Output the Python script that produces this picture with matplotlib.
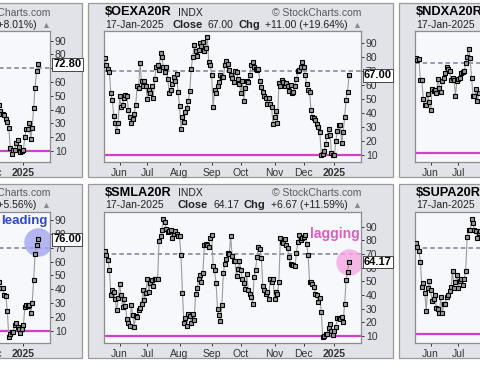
import matplotlib
matplotlib.use("Agg")
import matplotlib.pyplot as plt
from matplotlib.patches import Rectangle
from matplotlib.offsetbox import TextArea, HPacker, AnnotationBbox
import numpy as np
import pandas as pd

plt.rcParams["font.family"] = ["Liberation Sans", "DejaVu Sans"]

# ── data (percent of stocks above 20-day SMA, daily closes) ──────────────────
HOLIDAYS = ["2024-05-27", "2024-06-19", "2024-07-04", "2024-09-02",
            "2024-11-28", "2024-12-25", "2025-01-01", "2025-01-09"]
N_DAYS = 168
dates = pd.bdate_range(end="2025-01-17", periods=N_DAYS, freq="C", holidays=HOLIDAYS)

oexa_vals = [79.3, 74, 71.7, 69, 54, 49, 38, 33, 27, 33,
             52, 44, 46, 51, 53, 52, 42, 37, 33, 36,
             39, 46, 59, 58, 76, 62.6, 59, 62.6, 59, 50,
             56.7, 54, 59, 50.7, 64, 72.6, 74.5, 71, 82.9, 79.8,
             72.6, 69, 72.6, 64, 54, 56.7, 61, 66, 63, 68,
             55, 44.8, 28.8, 37, 33.6, 41, 43.6, 48.8, 55.5, 71.7,
             79.8, 88.8, 84, 80.5, 85.2, 90, 88, 90.7, 84, 86.4,
             94, 76.4, 74, 67, 44, 56.7, 54, 59, 62, 67,
             66, 66, 74, 77, 75, 71, 67.4, 65, 62, 69.8,
             69, 64.5, 60.7, 54, 62.6, 48.8, 57.9, 63, 62, 67,
             74, 76.4, 72.6, 71.7, 71, 71.7, 62.6, 58.3, 55, 52,
             51, 46.4, 51, 46.4, 44, 32, 37, 41.7, 33, 61.4,
             59, 63.8, 62, 59, 61.4, 59, 55.5, 59.8, 54, 55,
             59, 64, 69.8, 71, 72.6, 76.4, 72.6, 67, 60.7, 56.7,
             55, 42.4, 37, 36.4, 35, 32, 29.8, 26.4, 10.2, 10.7,
             13, 17.9, 23.3, 28.8, 24, 11.4, 10.2, 10.2, 20, 27,
             31.7, 31.7, 18.6, 26.4, 37, 49.5, 55, 67.0]

smla_vals = [71.9, 69.5, 65.9, 58.6, 39.9, 43.3, 42.3, 36.7, 28.7, 37.5,
             47.7, 39.9, 31.1, 36.7, 31.9, 22.1, 19.7, 17.3, 32.6, 25.3,
             16.6, 24.6, 23.8, 28.7, 30.2, 33.6, 43.3, 36.0, 41.6, 52.0,
             42.3, 48.9, 50.6, 46.4, 51.3, 51.3, 52.0, 79.7, 82.9, 87.7,
             95.7, 93.3, 88.5, 86.0, 87.0, 87.7, 81.7, 84.6, 86.5, 84.6,
             82.9, 82.9, 69.0, 41.6, 19.7, 22.9, 17.3, 25.8, 24.6, 19.7,
             26.3, 21.4, 40.4, 44.7, 51.3, 54.5, 49.6, 56.2, 76.8, 77.3,
             76.3, 74.9, 81.7, 84.1, 61.0, 57.9, 48.9, 29.4, 25.3, 20.9,
             32.6, 56.2, 62.7, 66.6, 70.7, 70.0, 82.9, 68.3, 65.1, 65.1,
             53.7, 59.3, 64.7, 57.9, 52.0, 48.9, 44.0, 55.4, 43.3, 40.9,
             38.4, 33.6, 53.0, 58.6, 67.6, 74.9, 73.9, 67.1, 46.4, 43.3,
             40.9, 42.3, 36.7, 52.0, 49.6, 52.0, 36.7, 42.3, 40.9, 49.6,
             81.7, 78.7, 78.0, 81.2, 76.3, 74.4, 67.6, 62.7, 62.2, 61.7,
             61.0, 70.7, 78.7, 84.1, 80.4, 81.7, 82.1, 83.6, 77.3, 69.5,
             49.6, 49.6, 48.1, 45.7, 40.9, 39.9, 35.0, 37.9, 27.7,
             9.3, 10.0, 11.2, 11.2, 15.6, 18.5, 13.2, 10.7, 13.2, 16.6,
             22.9, 23.4, 22.1, 23.8, 20.4, 33.1, 50.6, 56.9, 64.17]

# partially visible neighbours (left: last weeks only, right: first weeks only)
left_top_vals = [43.5, 39, 36.5, 37, 36, 33, 31, 27, 12, 8,
                 11, 11, 16, 18, 13, 9, 10, 11, 20, 26,
                 26, 30, 19, 27, 41, 56, 68, 72.8]
left_bot_vals = [46.6, 45.4, 41.2, 40.5, 40.5, 35.8, 35, 24, 5.7, 7.6,
                 9.3, 9.3, 14, 15.8, 12.4, 11, 8.6, 11, 14, 26.9,
                 28.6, 27.9, 28.6, 23, 30.2, 46.6, 65.4, 72, 76.0]
ndxa_vals = [73.3, 71.6, 72.2, 58.2, 58.2, 45.6, 41.6, 41.6, 49.3, 43.8,
             38.4, 52.2, 51.1, 51.8, 50, 59.3, 53.3, 50.4, 57.8, 59.6,
             63.3, 67.1, 65.6, 64.4, 58.2, 60, 58.2, 48.2, 57.8, 58.9,
             60, 63.3, 63.8, 64.4, 70, 74, 79.3, 72.7, 60, 48.2,
             47.8, 52.2, 44.4, 50]
supa_vals = [73.5, 71.2, 68.1, 60.7, 42.8, 45.6, 38.6, 26.3, 42.1, 47.4,
             40.9, 33.5, 34.4, 37.4, 28.1, 27.7, 24.7, 35.8, 24.7, 31.2,
             31.2, 35.8, 37.4, 40.5, 42.8, 54.4, 42.1, 46.7, 51.4, 42.1,
             47.4, 48.4, 44.4, 48.4, 54.4, 78.1, 82.8, 82.8, 90.2, 87.4,
             82.8, 82.3, 77, 80.5, 81.7]

symbols = ["$SPXA20R", "$OEXA20R", "$NDXA20R", "$MIDA20R", "$SMLA20R", "$SUPA20R"]
closes = ["72.80", "67.00", None, "76.00", "64.17", None]
changes = ["+5.40 (+8.01%)", "+11.00 (+19.64%)", None,
           "+4.00 (+5.56%)", "+6.67 (+11.59%)", None]
series = [left_top_vals, oexa_vals, ndxa_vals, left_bot_vals, smla_vals, supa_vals]
ylims = [(2, 97), (5, 98.6), (4.2, 90.9), (1.1, 95.8), (4.7, 100.8), (3.9, 95.3)]
columns = [-1, 0, 1, -1, 0, 1]
rows = [0, 0, 0, 1, 1, 1]

# ── layout (pixels) ──────────────────────────────────────────────────────────
W, H = 480, 366
COL_STEP, ROW_STEP = 311, 181
PL, PT, PW, PH = 104, 31, 257, 131

PANEL_BG = "#e1e3e9"
PLOT_BG = "#f7f8fc"
MAGENTA = "#d23fcf"
DASH = "#7d7d9a"
TXT = "#222222"


def fxy(px, py):
    return px / W, 1 - py / H


fig = plt.figure(figsize=(W / 100, H / 100), dpi=100, facecolor="white")

month_idx = [i for i in range(1, N_DAYS) if dates[i].month != dates[i - 1].month]
month_lbl = [dates[i].strftime("%Y") if dates[i].month == 1 else dates[i].strftime("%b")
             for i in month_idx]

for k in range(6):
    pl = PL + COL_STEP * columns[k]
    pt = PT + ROW_STEP * rows[k]

    # panel frame, drawn underneath the axes
    x0, y0 = fxy(pl - 16, pt + PH + 15)
    fig.patches.append(Rectangle((x0, y0), 305 / W, 174 / H, transform=fig.transFigure,
                                 facecolor=PANEL_BG, edgecolor="#9a9a9a", lw=0.9, zorder=-10))

    ax = fig.add_axes([pl / W, 1 - (pt + PH) / H, PW / W, PH / H])
    ax.set_zorder(1)
    ax.set_facecolor(PLOT_BG)
    for sp in ax.spines.values():
        sp.set_edgecolor("#8c8c8c")
        sp.set_linewidth(0.9)

    vals = series[k]
    start = 0 if columns[k] == 1 else N_DAYS - len(vals)
    x = np.arange(start, start + len(vals))

    ax.axhline(70, color=DASH, lw=1.1, ls=(0, (3, 2)), zorder=2)
    ax.axhline(10, color=MAGENTA, lw=1.6, zorder=2)
    ax.plot(x, vals, color="#9c9c9c", lw=0.8, zorder=3,
            marker="s", markersize=2.2, mfc="#9a9a9a", mec="black", mew=0.8)

    ax.set_xlim(-0.7, 175.2)
    ax.set_ylim(*ylims[k])

    ax.yaxis.tick_right()
    ax.set_yticks(range(10, 100, 10))
    ax.tick_params(axis="y", length=2.5, width=0.7, pad=1, labelsize=7.5,
                   colors="#333333")
    ax.set_xticks(month_idx)
    ax.set_xticklabels(month_lbl)
    ax.tick_params(axis="x", length=2, width=0.7, pad=2, labelsize=7.5,
                   colors="#333333")
    ax.get_xticklabels()[-1].set_fontweight("bold")

    # close value marker on the right axis
    if closes[k] is not None:
        ax.text(1.012, float(closes[k]), closes[k], transform=ax.get_yaxis_transform(),
                ha="left", va="center", fontsize=8, fontweight="bold", color="black",
                zorder=6, clip_on=False,
                bbox=dict(boxstyle="square,pad=0.12", fc="white", ec="#444444", lw=0.7))

    # header lines
    tx, ty = fxy(pl + 1, pt - 19)
    fig.text(tx, ty, symbols[k], fontsize=9.2, fontweight="bold", color="black",
             va="center", ha="left")
    tx, ty = fxy(pl + 74, pt - 18.5)
    fig.text(tx, ty, "INDX", fontsize=7.5, color=TXT, va="center", ha="left")
    tx, ty = fxy(pl + PW, pt - 18.5)
    fig.text(tx, ty, "\u00a9 StockCharts.com", fontsize=7.5, color="#5a5a5a",
             va="center", ha="right")
    tx, ty = fxy(pl + 1, pt - 6.5)
    fig.text(tx, ty, "17-Jan-2025", fontsize=7.5, color=TXT, va="center", ha="left")

    if closes[k] is not None:
        parts = [TextArea("Close", textprops=dict(fontsize=8, fontweight="bold", color=TXT)),
                 TextArea(closes[k], textprops=dict(fontsize=7.5, color=TXT)),
                 TextArea("Chg", textprops=dict(fontsize=8, fontweight="bold", color=TXT)),
                 TextArea(changes[k], textprops=dict(fontsize=7.5, color=TXT)),
                 TextArea("\u25b2", textprops=dict(fontsize=6.5, color="#8a8a8a"))]
        pack = HPacker(children=parts, align="baseline", pad=0, sep=3.5)
        ab = AnnotationBbox(pack, fxy(pl + PW, pt - 6.5), xycoords="figure fraction",
                            box_alignment=(1, 0.5), frameon=False, pad=0)
        fig.add_artist(ab)

    # highlights
    if symbols[k] == "$MIDA20R":
        ax.scatter([x[-1] - 0.3], [np.mean(vals[-2:])], s=420, color="#a3a5ef",
                   alpha=0.8, lw=0, zorder=2.5)
        ax.text(0.99, 0.93, "leading", transform=ax.transAxes, ha="right", va="center",
                fontsize=9.5, fontweight="bold", color="#3048c0", zorder=5)
    if symbols[k] == "$SMLA20R":
        ax.scatter([x[-1]], [vals[-1]], s=360, color="#f6a6e2",
                   alpha=0.8, lw=0, zorder=2.5)
        ax.text(0.995, 0.83, "lagging", transform=ax.transAxes, ha="right", va="center",
                fontsize=10, fontweight="semibold", color="#de5cc0", zorder=5)

fig.savefig("out.png", dpi=100, facecolor="white")
